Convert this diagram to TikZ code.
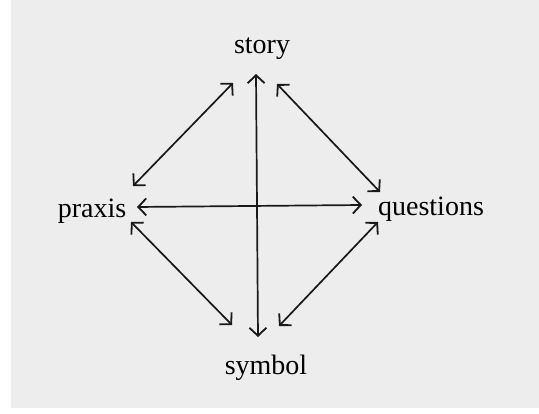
\documentclass[tikz,border=0pt]{standalone}
\usepackage{fontspec}
\setmainfont{Liberation Serif}
\usetikzlibrary{arrows.meta}
\begin{document}
\begin{tikzpicture}[x=1pt,y=-1pt,
  lbl/.style={font=\fontsize{28}{32}\selectfont, text=black, inner sep=0pt},
  tip/.style={Straight Barb[length=8pt,width=17pt,line width=1.8pt]},
  link/.style={draw=black!90, line width=1.7pt, {Straight Barb[length=8pt,width=17pt,line width=1.8pt]}-{Straight Barb[length=8pt,width=17pt,line width=1.8pt]}}]
\useasboundingbox (0,0) rectangle (539,414);
\fill[white] (0,0) rectangle (539,414);
\fill[black!7] (11,0) rectangle (539,408);
\node[lbl] (story) at (262,49) {story};
\node[lbl] (praxis) at (92,211) {praxis};
\node[lbl] (questions) at (431,209) {questions};
\node[lbl] (symbol) at (266,368) {symbol};
% arrow ends
\coordinate (st-l) at (233,83);
\coordinate (st-m) at (256,74);
\coordinate (st-r) at (277,84);
\coordinate (pr-u) at (133,186);
\coordinate (pr-m) at (137,207);
\coordinate (pr-d) at (131,222);
\coordinate (qu-u) at (380,192);
\coordinate (qu-m) at (362,205);
\coordinate (qu-d) at (378,222);
\coordinate (sy-l) at (232,325);
\coordinate (sy-m) at (258,337);
\coordinate (sy-r) at (279,326);
\draw[link] (st-l) -- (pr-u);
\draw[link] (st-r) -- (qu-u);
\draw[link] (pr-d) -- (sy-l);
\draw[link] (qu-d) -- (sy-r);
\draw[link] (st-m) -- (sy-m);
\draw[link] (pr-m) -- (qu-m);
\end{tikzpicture}
\end{document}
